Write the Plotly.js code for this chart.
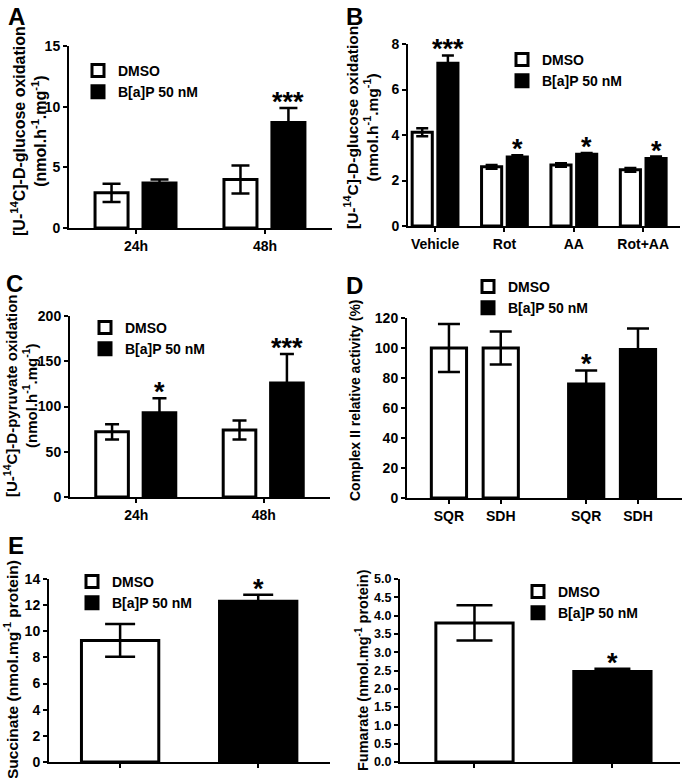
<!DOCTYPE html>
<html>
<head>
<meta charset="utf-8">
<script src="https://cdn.plot.ly/plotly-3.0.1.min.js"></script>
<style>
  body { margin: 0; background: #fff; }
  #fig { width: 685px; height: 778px; }
</style>
</head>
<body>
<div id="fig"></div>
<script>
// A: glucose oxidation, 24h / 48h
const timeCats = ['24h', '48h'];
const aDmso = [2.9, 4.0];
const aDmsoErr = [0.75, 1.15];
const aBap = [3.7, 8.7];
const aBapErr = [0.3, 1.2];
const aSig = ['', '***'];

// B: glucose oxidation with inhibitors
const bCats = ['Vehicle', 'Rot', 'AA', 'Rot+AA'];
const bDmso = [4.12, 2.6, 2.68, 2.47];
const bDmsoErr = [0.18, 0.08, 0.08, 0.08];
const bBap = [7.15, 3.03, 3.15, 2.97];
const bBapErr = [0.35, 0.08, 0.06, 0.08];
const bSig = ['***', '*', '*', '*'];

// C: pyruvate oxidation
const cDmso = [72, 74];
const cDmsoErr = [8.5, 10.5];
const cBap = [93, 126];
const cBapErr = [16, 32];
const cSig = ['*', '***'];

// D: complex II activity
const dCats = ['SQR', 'SDH'];
const dDmso = [100, 100];
const dDmsoErr = [16, 11];
const dBap = [76, 99];
const dBapErr = [9, 14];
const dSig = ['*', ''];

// E: succinate / fumarate
const groups = ['DMSO', 'B[a]P 50 nM'];
const succ = [9.3, 12.3];
const succErr = [1.25, 0.5];
const fum = [3.8, 2.47];
const fumErr = [0.48, 0.08];
const eSig = ['', '*'];

const W = 685, H = 778;
const px = v => v / W;
const py = v => 1 - v / H;

function bar(name, x, y, err, fill, ax, leg, width, offset, cap) {
  return {
    type: 'bar', name: name, x: x, y: y,
    xaxis: 'x' + ax, yaxis: 'y' + ax, legend: leg,
    width: width, offset: offset,
    marker: {color: fill, line: {color: 'black', width: 3}},
    error_y: {type: 'data', array: err, visible: true, color: 'black', thickness: 2.5, width: cap},
    hoverinfo: 'skip'
  };
}

const data = [
  bar('DMSO', timeCats, aDmso, aDmsoErr, 'white', '', 'legend', 0.256, -0.318, 9),
  bar('B[a]P 50 nM', timeCats, aBap, aBapErr, 'black', '', 'legend', 0.256, 0.054, 9),
  bar('DMSO', bCats, bDmso, bDmsoErr, 'white', '2', 'legend2', 0.29, -0.33, 6),
  bar('B[a]P 50 nM', bCats, bBap, bBapErr, 'black', '2', 'legend2', 0.29, 0.04, 6),
  bar('DMSO', timeCats, cDmso, cDmsoErr, 'white', '3', 'legend3', 0.256, -0.318, 7),
  bar('B[a]P 50 nM', timeCats, cBap, cBapErr, 'black', '3', 'legend3', 0.256, 0.054, 7),
  bar('DMSO', dCats.map((c, i) => i), dDmso, dDmsoErr, 'white', '4', 'legend4', 0.68, -0.34, 11),
  bar('B[a]P 50 nM', dCats.map((c, i) => i + 2.65), dBap, dBapErr, 'black', '4', 'legend4', 0.68, -0.34, 11),
  bar(groups[0], [0], [succ[0]], [succErr[0]], 'white', '5', 'legend5', 0.56, -0.28, 15),
  bar(groups[1], [1], [succ[1]], [succErr[1]], 'black', '5', 'legend5', 0.56, -0.28, 15),
  bar(groups[0], [0], [fum[0]], [fumErr[0]], 'white', '6', 'legend6', 0.56, -0.28, 18),
  bar(groups[1], [1], [fum[1]], [fumErr[1]], 'black', '6', 'legend6', 0.56, -0.28, 18)
];

function yax(top, bottom, range, dtick, anchor, fmt, fsize) {
  return {
    domain: [py(bottom), py(top)], range: range, dtick: dtick, tick0: 0,
    anchor: anchor, showline: true, linewidth: 2, linecolor: 'black',
    ticks: 'outside', ticklen: 4, tickwidth: 2, tickcolor: 'black',
    showgrid: false, zeroline: false, tickformat: fmt || '',
    tickfont: {size: fsize || 14}
  };
}
function xax(left, right, range, anchor, extra) {
  return Object.assign({
    domain: [px(left), px(right)], range: range, anchor: anchor,
    showline: true, linewidth: 2, linecolor: 'black',
    ticks: 'outside', ticklen: 4, tickwidth: 2, tickcolor: 'black',
    showgrid: false, zeroline: false, tickfont: {size: 14}
  }, extra || {});
}

function legendAt(x, y) {
  return {x: px(x), y: py(y), xanchor: 'left', yanchor: 'top',
    bgcolor: 'rgba(0,0,0,0)', traceorder: 'normal', font: {size: 14}};
}

// significance stars above the B[a]P bars
const ann = [];
function stars(sig, xs, vals, errs, ax) {
  sig.forEach((s, i) => {
    if (!s) return;
    ann.push({text: s, x: xs[i], y: vals[i] + errs[i], xref: 'x' + ax, yref: 'y' + ax,
      showarrow: false, yanchor: 'bottom', yshift: -11, font: {size: 27}});
  });
}
stars(aSig, timeCats.map((c, i) => i + 0.182), aBap, aBapErr, '');
stars(bSig, bCats.map((c, i) => i + 0.185), bBap, bBapErr, '2');
stars(cSig, timeCats.map((c, i) => i + 0.182), cBap, cBapErr, '3');
stars(dSig, dCats.map((c, i) => i + 2.65), dBap, dBapErr, '4');
stars(eSig.slice(1), [1], succ.slice(1), succErr.slice(1), '5');
stars(eSig.slice(1), [1], fum.slice(1), fumErr.slice(1), '6');

// panel letters
[['A', 6, 1], ['B', 344, 1], ['C', 4, 268], ['D', 344, 270], ['E', 6, 530]].forEach(p => {
  ann.push({text: p[0], xref: 'paper', yref: 'paper', x: px(p[1]), y: py(p[2]),
    xanchor: 'left', yanchor: 'top', showarrow: false, font: {size: 24}});
});

// y axis titles, placed by their centres
const glucTitle = '[U-<sup>14</sup>C]-D-glucose oxidation<br>(nmol.h<sup>-1</sup>.mg<sup>-1</sup>)';
const pyrTitle = '[U-<sup>14</sup>C]-D-pyruvate oxidation<br>(nmol.h<sup>-1</sup>.mg<sup>-1</sup>)';
[[glucTitle, 29, 131, 16], [glucTitle, 361, 127, 15.5], [pyrTitle, 20, 396, 15],
 ['Complex II relative activity (%)', 355, 400, 14],
 ['Succinate (nmol.mg<sup>-1</sup> protein)', 11, 670, 15.5],
 ['Fumarate (nmol.mg<sup>-1</sup> protein)', 362, 670, 14.5]].forEach(t => {
  ann.push({text: t[0], xref: 'paper', yref: 'paper', x: px(t[1]), y: py(t[2]),
    xanchor: 'center', yanchor: 'middle', textangle: -90, showarrow: false,
    font: {size: t[3]}});
});

const layout = {
  width: W, height: H,
  margin: {l: 0, r: 0, t: 0, b: 0},
  paper_bgcolor: 'white', plot_bgcolor: 'white',
  font: {family: 'Liberation Sans, Arial, sans-serif', color: 'black', size: 14, weight: 'bold'},
  barmode: 'group',
  showlegend: true,
  xaxis: xax(69, 332, [-0.52, 1.52], 'y'),
  yaxis: yax(46, 228, [0, 15], 5, 'x'),
  xaxis2: xax(408, 680, [-0.39, 3.53], 'y2'),
  yaxis2: yax(44, 226, [0, 8], 2, 'x2'),
  xaxis3: xax(70, 330, [-0.52, 1.52], 'y3'),
  yaxis3: yax(316, 497, [0, 200], 50, 'x3'),
  xaxis4: xax(407, 682, [-0.81, 4.5], 'y4', {
    tickvals: dCats.map((c, i) => i).concat(dCats.map((c, i) => i + 2.65)),
    ticktext: dCats.concat(dCats)
  }),
  yaxis4: yax(318, 498, [0, 120], 20, 'x4'),
  xaxis5: xax(49, 330, [-0.515, 1.52], 'y5', {tickvals: [0, 1], ticktext: ['', '']}),
  yaxis5: yax(579, 762, [0, 14], 2, 'x5'),
  xaxis6: xax(400, 680, [-0.54, 1.49], 'y6', {tickvals: [0, 1], ticktext: ['', '']}),
  yaxis6: yax(579, 762, [0, 5], 0.5, 'x6', '.1f', 12.5),
  legend: legendAt(78, 55),
  legend2: legendAt(502, 44),
  legend3: legendAt(85, 312),
  legend4: legendAt(468, 271),
  legend5: legendAt(72, 566),
  legend6: legendAt(518, 576),
  annotations: ann
};

Plotly.newPlot('fig', data, layout, {displayModeBar: false, staticPlot: true});
</script>
</body>
</html>
